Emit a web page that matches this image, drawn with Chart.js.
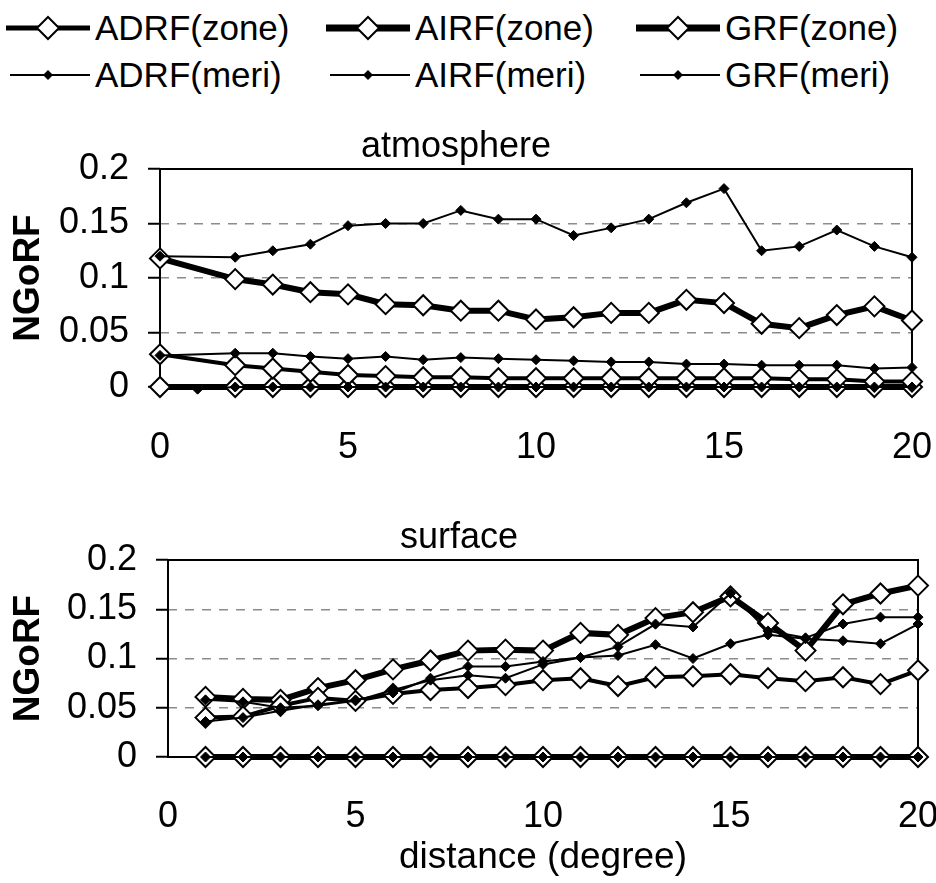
<!DOCTYPE html>
<html>
<head>
<meta charset="utf-8">
<title>NGoRF vs distance</title>
<script src="https://cdn.jsdelivr.net/npm/chart.js@4.4.1/dist/chart.umd.min.js"></script>
<style>
  body { margin: 0; background: #fff; }
  #page { position: relative; width: 936px; height: 883px; overflow: hidden; font-family: "Liberation Sans", Arial, sans-serif; }
  .legend-item { position: absolute; display: flex; align-items: center; height: 44px; font-size: 35px; color: #000; white-space: nowrap; }
  .legend-item svg { display: block; margin-right: 3px; }
  .chart-box { position: absolute; left: 0; }
</style>
</head>
<body>
<div id="page">
  <div id="legend"></div>
  <div class="chart-box" style="top:115px"><canvas id="atmosphere-chart" width="936" height="355"></canvas></div>
  <div class="chart-box" style="top:500px"><canvas id="surface-chart" width="936" height="383"></canvas></div>
</div>
<script>
// x positions (degree)
const atmosX = [0, 2, 3, 4, 5, 6, 7, 8, 9, 10, 11, 12, 13, 14, 15, 16, 17, 18, 19, 20]
const atmosMeriZeroX = [1, 2, 3, 4, 5, 6, 7, 8, 9, 10, 11, 12, 13, 14, 15, 16, 17, 18, 19, 20]
const surfX = [1, 2, 3, 4, 5, 6, 7, 8, 9, 10, 11, 12, 13, 14, 15, 16, 17, 18, 19, 20]

// atmosphere panel
const atmosAdrfZone = [0.030, 0.020, 0.017, 0.014, 0.011, 0.010, 0.009, 0.009, 0.008, 0.008, 0.008, 0.008, 0.008, 0.008, 0.008, 0.008, 0.007, 0.007, 0.005, 0.005]
const atmosAirfZone = [0, 0, 0, 0, 0, 0, 0, 0, 0, 0, 0, 0, 0, 0, 0, 0, 0, 0, 0, 0]
const atmosGrfZone = [0.118, 0.099, 0.094, 0.087, 0.085, 0.076, 0.075, 0.070, 0.070, 0.062, 0.064, 0.068, 0.068, 0.080, 0.077, 0.058, 0.054, 0.066, 0.074, 0.061]
const atmosAdrfMeri = [0.029, 0.031, 0.031, 0.028, 0.026, 0.028, 0.025, 0.027, 0.026, 0.025, 0.024, 0.023, 0.023, 0.021, 0.021, 0.020, 0.020, 0.020, 0.017, 0.018]
const atmosAirfMeri = [-0.002, 0, 0, 0, 0, 0, 0, 0, 0, 0, 0, 0, 0, 0, 0, 0, 0, 0, 0, 0]
const atmosGrfMeri = [0.120, 0.119, 0.125, 0.131, 0.148, 0.150, 0.150, 0.162, 0.154, 0.154, 0.139, 0.146, 0.154, 0.169, 0.182, 0.125, 0.129, 0.144, 0.129, 0.119]

// surface panel
const surfAdrfZone = [0.040, 0.041, 0.052, 0.060, 0.057, 0.064, 0.068, 0.070, 0.073, 0.078, 0.080, 0.072, 0.081, 0.082, 0.084, 0.080, 0.077, 0.081, 0.074, 0.088]
const surfAirfZone = [0, 0, 0, 0, 0, 0, 0, 0, 0, 0, 0, 0, 0, 0, 0, 0, 0, 0, 0, 0]
const surfGrfZone = [0.061, 0.059, 0.058, 0.070, 0.078, 0.089, 0.098, 0.108, 0.109, 0.108, 0.126, 0.124, 0.141, 0.147, 0.163, 0.136, 0.108, 0.155, 0.166, 0.174]
const surfAdrfMeri = [0.036, 0.040, 0.047, 0.053, 0.058, 0.065, 0.080, 0.092, 0.092, 0.097, 0.101, 0.103, 0.114, 0.100, 0.115, 0.124, 0.120, 0.118, 0.115, 0.135]
const surfAirfMeri = [0, 0, 0, 0, 0, 0, 0, 0, 0, 0, 0, 0, 0, 0, 0, 0, 0, 0, 0, 0]
const surfGrfMeri = [0.058, 0.056, 0.050, 0.052, 0.057, 0.068, 0.078, 0.083, 0.080, 0.094, 0.101, 0.112, 0.135, 0.132, 0.166, 0.128, 0.121, 0.135, 0.142, 0.142]

const legendLabels = ["ADRF(zone)", "AIRF(zone)", "GRF(zone)", "ADRF(meri)", "AIRF(meri)", "GRF(meri)"]
const yTicks = [0, 0.05, 0.1, 0.15, 0.2]
const xTicks = [0, 5, 10, 15, 20]

Chart.defaults.font.family = "'Liberation Sans', Arial, sans-serif"
Chart.defaults.color = "#000"

const zoneWidths = [4, 6, 6]

const pairs = (xs, ys) => xs.map((x, i) => ({ x: x, y: ys[i] }))

function zoneSet(label, xs, ys, width) {
  return {
    label: label,
    data: pairs(xs, ys),
    borderColor: "#000",
    borderWidth: width,
    pointStyle: "rectRot",
    pointRadius: 10,
    pointHoverRadius: 10,
    pointBackgroundColor: "#fff",
    pointBorderColor: "#000",
    pointBorderWidth: 2,
    clip: false,
  }
}

function meriSet(label, xs, ys) {
  return {
    label: label,
    data: pairs(xs, ys),
    borderColor: "#000",
    borderWidth: 2,
    pointStyle: "rectRot",
    pointRadius: 5,
    pointHoverRadius: 5,
    pointBackgroundColor: "#000",
    pointBorderColor: "#000",
    pointBorderWidth: 1,
    clip: false,
  }
}

// plot area frame like the spreadsheet original
const plotFrame = {
  id: "plotFrame",
  beforeDatasetsDraw(chart) {
    const { ctx, chartArea: a } = chart
    ctx.save()
    ctx.strokeStyle = "#000"
    ctx.lineWidth = 2
    ctx.strokeRect(a.left, a.top, a.right - a.left, a.bottom - a.top)
    ctx.restore()
  },
}

function makeOptions(cfg) {
  return {
    responsive: false,
    animation: false,
    layout: { padding: { top: cfg.padTop, right: cfg.padRight, bottom: 0, left: 0 } },
    plugins: {
      legend: { display: false },
      tooltip: { enabled: false },
      title: {
        display: true,
        text: cfg.title,
        color: "#000",
        font: { size: 36, weight: "normal" },
        padding: 0,
      },
    },
    scales: {
      x: {
        type: "linear",
        min: 0,
        max: 20,
        afterBuildTicks: (scale) => {
          scale.ticks = xTicks.map((v) => ({ value: v }))
        },
        ticks: { padding: cfg.xTickPad, font: { size: 36 }, autoSkip: false, maxRotation: 0 },
        grid: { display: false, drawTicks: false },
        border: { display: false },
        title: {
          display: !!cfg.xTitle,
          text: cfg.xTitle || "",
          color: "#000",
          font: { size: 37 },
          padding: { top: 0, bottom: 3 },
        },
        afterFit: (scale) => {
          scale.height = cfg.xHeight
          scale.paddingLeft = 0
          scale.paddingRight = 0
        },
      },
      y: {
        min: 0,
        max: 0.2,
        afterBuildTicks: (scale) => {
          scale.ticks = yTicks.map((v) => ({ value: v }))
        },
        ticks: {
          padding: 19,
          font: { size: 36 },
          callback: (v) => String(Math.round(v * 100) / 100),
        },
        grid: {
          color: (ctx) => {
            const v = ctx.tick ? ctx.tick.value : 0
            return v < 0.001 || v > 0.199 ? "rgba(0,0,0,0)" : "#8c8c8c"
          },
          lineWidth: 1.5,
          drawTicks: true,
          tickLength: 12,
          tickColor: "#000",
          tickWidth: 2,
          tickBorderDash: [],
        },
        border: { display: false, dash: [9, 8] },
        title: {
          display: true,
          text: "NGoRF",
          color: "#000",
          font: { size: 37, weight: "bold" },
          padding: { top: 7, bottom: 0 },
        },
        afterFit: (scale) => {
          scale.width = cfg.yWidth
        },
      },
    },
  }
}

function initAtmosphereChart() {
  const el = document.getElementById("atmosphere-chart")
  if (!el) return
  new Chart(el, {
    type: "line",
    data: {
      datasets: [
        meriSet(legendLabels[3], atmosX, atmosAdrfMeri),
        meriSet(legendLabels[4], atmosMeriZeroX, atmosAirfMeri),
        meriSet(legendLabels[5], atmosX, atmosGrfMeri),
        zoneSet(legendLabels[0], atmosX, atmosAdrfZone, zoneWidths[0]),
        zoneSet(legendLabels[1], atmosX, atmosAirfZone, zoneWidths[1]),
        zoneSet(legendLabels[2], atmosX, atmosGrfZone, zoneWidths[2]),
      ],
    },
    options: makeOptions({
      title: "atmosphere",
      padTop: 10.8,
      padRight: 24,
      xTickPad: 39,
      xHeight: 83,
      yWidth: 160,
    }),
    plugins: [plotFrame],
  })
}

function initSurfaceChart() {
  const el = document.getElementById("surface-chart")
  if (!el) return
  new Chart(el, {
    type: "line",
    data: {
      datasets: [
        meriSet(legendLabels[3], surfX, surfAdrfMeri),
        meriSet(legendLabels[4], surfX, surfAirfMeri),
        meriSet(legendLabels[5], surfX, surfGrfMeri),
        zoneSet(legendLabels[0], surfX, surfAdrfZone, zoneWidths[0]),
        zoneSet(legendLabels[1], surfX, surfAirfZone, zoneWidths[1]),
        zoneSet(legendLabels[2], surfX, surfGrfZone, zoneWidths[2]),
      ],
    },
    options: makeOptions({
      title: "surface",
      padTop: 16.8,
      padRight: 18,
      xTickPad: 38.4,
      xHeight: 126,
      yWidth: 168,
      xTitle: "distance (degree)",
    }),
    plugins: [plotFrame],
  })
}

// HTML legend, 3 columns x 2 rows
function buildLegend() {
  const box = document.getElementById("legend")
  const colLeft = [4, 324, 634]
  const rowTop = [6, 53]
  legendLabels.forEach((label, i) => {
    const row = i < 3 ? 0 : 1
    const col = i % 3
    const item = document.createElement("div")
    item.className = "legend-item"
    item.style.left = colLeft[col] + "px"
    item.style.top = rowTop[row] + "px"
    let svg
    if (row === 0) {
      svg = `<svg width="88" height="30"><line x1="2" y1="15" x2="86" y2="15" stroke="#000" stroke-width="${zoneWidths[col] + 1}"/>` +
        `<polygon points="44,4 55,15 44,26 33,15" fill="#fff" stroke="#000" stroke-width="2"/></svg>`
    } else {
      svg = `<svg width="88" height="30"><line x1="6" y1="15" x2="86" y2="15" stroke="#000" stroke-width="2"/>` +
        `<polygon points="44,10 49,15 44,20 39,15" fill="#000"/></svg>`
    }
    item.innerHTML = svg + `<span>${label}</span>`
    box.appendChild(item)
  })
}

buildLegend()
initAtmosphereChart()
initSurfaceChart()
</script>
</body>
</html>
